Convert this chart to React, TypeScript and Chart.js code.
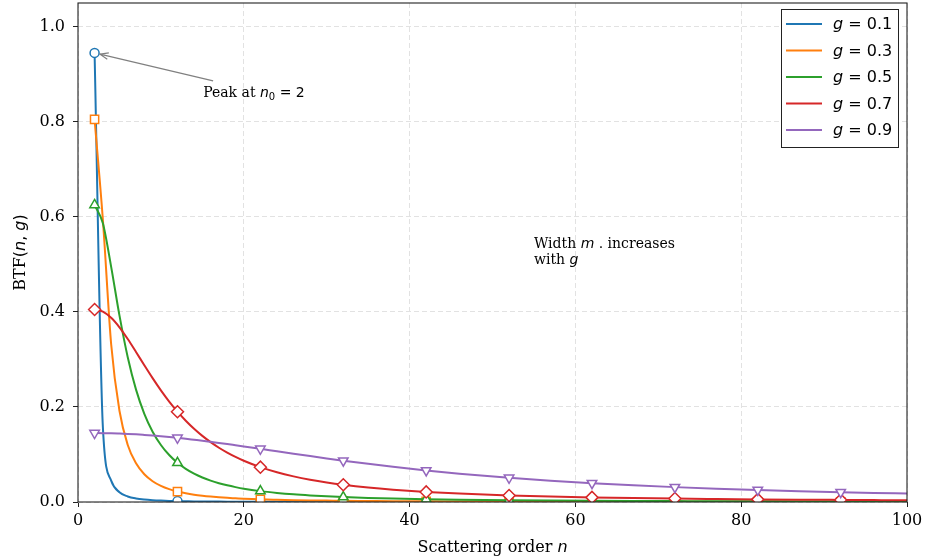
import React, { useEffect, useRef } from "react";
import { Chart, registerables } from "chart.js";
Chart.register(...registerables);

// Scattering order n (shared x values)
const N = [2, 3, 4, 5, 6, 7, 8, 9, 10, 11, 12, 13, 14, 15, 16, 17, 18, 19, 20, 22, 24, 26, 28, 30, 32, 35, 38, 42, 46, 52, 57, 62, 67, 72, 77, 82, 87, 92, 96, 100];

const BTF_G01 = [0.945, 0.1575, 0.045, 0.0205, 0.0117, 0.0075, 0.0052, 0.0038, 0.0029, 0.0023, 0.0019, 0.0016, 0.0013, 0.0011, 0.00096, 0.00084, 0.00074, 0.00065, 0.00058, 0.00047, 0.00039, 0.00033, 0.00028, 0.00024, 0.00021, 0.00017, 0.00015, 0.00012, 0.0001, 0.00008, 0.00006, 0.00005, 0.00004, 0.00004, 0.00003, 0.00003, 0.00003, 0.00002, 0.00002, 0.00002];
const BTF_G03 = [0.805, 0.594, 0.332, 0.192, 0.12, 0.0813, 0.0583, 0.0437, 0.0339, 0.027, 0.022, 0.0183, 0.0154, 0.0132, 0.0114, 0.0099, 0.0087, 0.0078, 0.0069, 0.0056, 0.0047, 0.0039, 0.0033, 0.0029, 0.0025, 0.0021, 0.0017, 0.0014, 0.0012, 0.0009, 0.00075, 0.00063, 0.00054, 0.00046, 0.0004, 0.00035, 0.00031, 0.00028, 0.00026, 0.00024];
const BTF_G05 = [0.625, 0.5865, 0.4948, 0.3926, 0.3046, 0.2364, 0.1856, 0.148, 0.12, 0.0988, 0.0825, 0.0698, 0.0597, 0.0516, 0.045, 0.0396, 0.0351, 0.0313, 0.028, 0.0229, 0.0191, 0.0161, 0.0138, 0.0119, 0.0104, 0.0086, 0.0073, 0.0059, 0.0049, 0.0038, 0.0031, 0.0026, 0.0022, 0.0019, 0.0017, 0.0015, 0.0013, 0.0012, 0.0011, 0.001];
const BTF_G07 = [0.405, 0.4005, 0.3875, 0.3676, 0.3429, 0.3157, 0.2878, 0.2606, 0.2349, 0.2113, 0.19, 0.171, 0.1541, 0.1391, 0.1259, 0.1142, 0.104, 0.0949, 0.0868, 0.0733, 0.0625, 0.0539, 0.0468, 0.041, 0.0362, 0.0304, 0.0259, 0.0212, 0.0177, 0.0138, 0.0115, 0.0097, 0.0083, 0.0072, 0.0063, 0.0055, 0.0049, 0.0044, 0.004, 0.0037];
const BTF_G09 = [0.145, 0.1449, 0.1446, 0.144, 0.1433, 0.1424, 0.1412, 0.1399, 0.1384, 0.1368, 0.135, 0.1331, 0.131, 0.1289, 0.1266, 0.1243, 0.1219, 0.1194, 0.1169, 0.1119, 0.1067, 0.1016, 0.0966, 0.0917, 0.087, 0.0803, 0.074, 0.0664, 0.0596, 0.0508, 0.0447, 0.0395, 0.0351, 0.0313, 0.0281, 0.0253, 0.0228, 0.0207, 0.0192, 0.0179];

const G_LABELS = ["0.1", "0.3", "0.5", "0.7", "0.9"];
const MARKER_N = [2, 12, 22, 32, 42, 52, 62, 72, 82, 92];
const X_TICKS = [0, 20, 40, 60, 80, 100];
const Y_TICKS = [0, 0.2, 0.4, 0.6, 0.8, 1.0];

const SERIES = [BTF_G01, BTF_G03, BTF_G05, BTF_G07, BTF_G09];
const COLORS = ["#1f77b4", "#ff7f0e", "#2ca02c", "#d62728", "#9467bd"];
const MARKERS = [
  { style: "circle", r: 4.5, rot: 0 },
  { style: "rect", r: 5.8, rot: 0 },
  { style: "triangle", r: 5.5, rot: 0 },
  { style: "rectRot", r: 6, rot: 0 },
  { style: "triangle", r: 5.5, rot: 180 },
];

const SERIF = '"DejaVu Serif"';
const SANS = '"DejaVu Sans"';

type Run = { t: string; f: string; dy?: number };
function drawRuns(ctx: CanvasRenderingContext2D, runs: Run[], x: number, y: number, align: "left" | "center") {
  let w = 0;
  for (const r of runs) {
    ctx.font = r.f;
    w += ctx.measureText(r.t).width;
  }
  let cx = align === "center" ? x - w / 2 : x;
  ctx.textAlign = "left";
  for (const r of runs) {
    ctx.font = r.f;
    ctx.fillText(r.t, cx, y + (r.dy || 0));
    cx += ctx.measureText(r.t).width;
  }
}

const decorPlugin = {
  id: "decor",
  afterDraw(chart: any) {
    const ctx: CanvasRenderingContext2D = chart.ctx;
    const { left, right, top, bottom } = chart.chartArea;
    const xs = chart.scales.x;
    const ys = chart.scales.y;
    ctx.save();
    // spines
    ctx.strokeStyle = "#222";
    ctx.lineWidth = 1.1;
    ctx.setLineDash([]);
    ctx.strokeRect(left, top, right - left, bottom - top);

    ctx.fillStyle = "#000";
    ctx.textBaseline = "alphabetic";
    // x-axis title
    drawRuns(ctx, [
      { t: "Scattering order ", f: `16px ${SERIF}` },
      { t: "n", f: `italic 16px ${SANS}` },
    ], (left + right) / 2, 552, "center");
    // y-axis title
    ctx.save();
    ctx.translate(21, (top + bottom) / 2);
    ctx.rotate(-Math.PI / 2);
    ctx.textBaseline = "middle";
    drawRuns(ctx, [
      { t: "BTF", f: `16px ${SERIF}` },
      { t: "(", f: `16px ${SANS}` },
      { t: "n", f: `italic 16px ${SANS}` },
      { t: ", ", f: `16px ${SANS}` },
      { t: "g", f: `italic 16px ${SANS}` },
      { t: ")", f: `16px ${SANS}` },
    ], 0, 0, "center");
    ctx.restore();

    // annotation arrow
    const hx = xs.getPixelForValue(N[0]);
    const hy = ys.getPixelForValue(BTF_G01[0]);
    const tx = xs.getPixelForValue(16.3);
    const ty = ys.getPixelForValue(0.886);
    const dx = tx - hx, dy = ty - hy;
    const len = Math.hypot(dx, dy);
    const ux = dx / len, uy = dy / len;
    const px = hx + ux * 5.5, py = hy + uy * 5.5;
    ctx.strokeStyle = "#808080";
    ctx.lineWidth = 1.2;
    ctx.beginPath();
    ctx.moveTo(tx, ty);
    ctx.lineTo(px, py);
    const ang = Math.atan2(uy, ux);
    const hl = 9, ha = 0.38;
    ctx.moveTo(px + Math.cos(ang + ha) * hl, py + Math.sin(ang + ha) * hl);
    ctx.lineTo(px, py);
    ctx.lineTo(px + Math.cos(ang - ha) * hl, py + Math.sin(ang - ha) * hl);
    ctx.stroke();

    ctx.fillStyle = "#000";
    ctx.textBaseline = "alphabetic";
    drawRuns(ctx, [
      { t: "Peak at ", f: `14px ${SERIF}` },
      { t: "n", f: `italic 14px ${SANS}` },
      { t: "0", f: `10px ${SANS}`, dy: 3 },
      { t: " = 2", f: `14px ${SANS}` },
    ], xs.getPixelForValue(15.1), ys.getPixelForValue(0.853), "left");

    const wx = xs.getPixelForValue(55);
    drawRuns(ctx, [
      { t: "Width ", f: `14px ${SERIF}` },
      { t: "m", f: `italic 14px ${SANS}` },
      { t: " . ", f: `14px ${SANS}` },
      { t: "increases", f: `14px ${SERIF}` },
    ], wx, ys.getPixelForValue(0.535), "left");
    drawRuns(ctx, [
      { t: "with ", f: `14px ${SERIF}` },
      { t: "g", f: `italic 14px ${SANS}` },
    ], wx, ys.getPixelForValue(0.5), "left");

    // legend
    const bx = 781, by = 9, bw = 117, bh = 138;
    ctx.fillStyle = "#fff";
    ctx.fillRect(bx, by, bw, bh);
    ctx.strokeStyle = "#222";
    ctx.lineWidth = 1;
    ctx.strokeRect(bx + 0.5, by + 0.5, bw, bh);
    for (let i = 0; i < G_LABELS.length; i++) {
      const yy = 24 + i * 26.5;
      ctx.strokeStyle = COLORS[i];
      ctx.lineWidth = 2;
      ctx.beginPath();
      ctx.moveTo(786, yy);
      ctx.lineTo(822, yy);
      ctx.stroke();
      ctx.fillStyle = "#000";
      ctx.textBaseline = "middle";
      drawRuns(ctx, [
        { t: "g", f: `italic 16px ${SANS}` },
        { t: " = ", f: `16px ${SANS}` },
        { t: G_LABELS[i], f: `16px ${SANS}` },
      ], 833, yy + 1, "left");
    }
    ctx.restore();
  },
};

export default function App() {
  const ref = useRef<HTMLCanvasElement>(null);
  useEffect(() => {
    const datasets = SERIES.map((vals, i) => ({
      label: `g = ${G_LABELS[i]}`,
      data: N.map((n, j) => ({ x: n, y: vals[j] })),
      borderColor: COLORS[i],
      backgroundColor: COLORS[i],
      borderWidth: 2,
      pointStyle: MARKERS[i].style as any,
      pointRotation: MARKERS[i].rot,
      pointRadius: (c: any) => (MARKER_N.includes(N[c.dataIndex]) ? MARKERS[i].r : 0),
      pointHoverRadius: (c: any) => (MARKER_N.includes(N[c.dataIndex]) ? MARKERS[i].r : 0),
      pointBorderWidth: 1.5,
      pointBackgroundColor: "#fff",
      pointBorderColor: COLORS[i],
      cubicInterpolationMode: "monotone" as const,
      fill: false,
      order: 5 - i,
    }));
    const gridOpts: any = {
      color: "#e2e2e2",
      lineWidth: 1,
      borderDash: [5, 3],
      drawTicks: true,
      tickLength: 5,
      tickColor: "#222",
      tickWidth: 1,
      tickBorderDash: [],
    };
    const chart = new Chart(ref.current!, {
      type: "line",
      data: { datasets },
      options: {
        animation: false,
        responsive: false,
        maintainAspectRatio: false,
        layout: { autoPadding: false, padding: { left: 0, right: 18, top: 3, bottom: 0 } },
        plugins: { legend: { display: false }, tooltip: { enabled: false } },
        scales: {
          x: {
            type: "linear",
            min: 0,
            max: 100,
            afterBuildTicks: (s: any) => { s.ticks = X_TICKS.map((v) => ({ value: v })); },
            afterFit: (s: any) => {
              s.height = 57;
              s.paddingLeft = 0; s.paddingRight = 0; s.paddingTop = 0; s.paddingBottom = 0;
            },
            grid: gridOpts,
            border: { display: false, dash: [5, 3] },
            ticks: {
              padding: 4,
              color: "#000",
              font: { family: "DejaVu Serif", size: 16 },
              callback: (v: any) => String(v),
              maxRotation: 0,
            },
          },
          y: {
            type: "linear",
            min: 0,
            max: 1.05,
            afterBuildTicks: (s: any) => { s.ticks = Y_TICKS.map((v) => ({ value: v })); },
            afterFit: (s: any) => {
              s.width = 78;
              s.paddingLeft = 0; s.paddingRight = 0; s.paddingTop = 0; s.paddingBottom = 0;
            },
            grid: gridOpts,
            border: { display: false, dash: [5, 3] },
            ticks: {
              padding: 8,
              color: "#000",
              font: { family: "DejaVu Serif", size: 16 },
              callback: (v: any) => Number(v).toFixed(1),
            },
          },
        },
      },
      plugins: [decorPlugin],
    } as any);
    return () => chart.destroy();
  }, []);
  return (
    <div style={{ position: "fixed", left: 0, top: 0, width: 925, height: 559, background: "#fff" }}>
      <canvas ref={ref} width={925} height={559} style={{ display: "block" }} />
    </div>
  );
}
